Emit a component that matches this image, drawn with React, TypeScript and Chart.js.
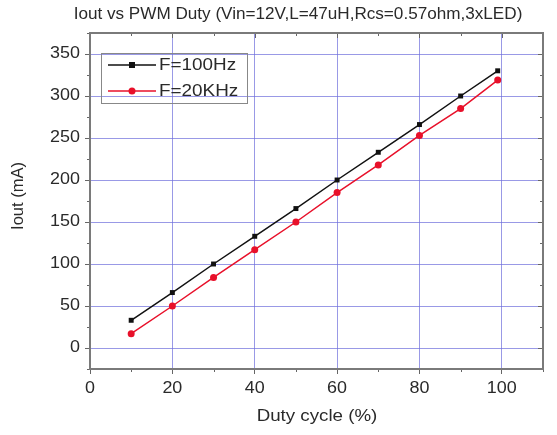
import React, { useEffect, useRef } from "react";
import { Chart, registerables } from "chart.js";

Chart.register(...registerables);

const duty = [10, 20, 30, 40, 50, 60, 70, 80, 90, 99];
const iout100Hz = [33, 66, 100, 133, 166, 200, 233, 266, 300, 330];
const iout20KHz = [17, 50, 84, 117, 150, 185, 218, 253, 285, 319];
const xTicks = [0, 20, 40, 60, 80, 100];
const yTicks = [0, 50, 100, 150, 200, 250, 300, 350];
const seriesNames = ["F=100Hz", "F=20KHz"];
const titleText = "Iout vs PWM Duty (Vin=12V,L=47uH,Rcs=0.57ohm,3xLED)";
const xTitle = "Duty cycle (%)";
const yTitle = "Iout (mA)";

const FONT = "'Liberation Sans', Arial, sans-serif";
const BLACK = "#111111";
const RED = "#e8102a";
const TEXT = "#2a2a2a";

function stretchText(ctx: any, text: string, x: number, y: number, size: number, sx: number, align: string, rot = 0) {
  ctx.save();
  ctx.translate(x, y);
  if (rot) ctx.rotate(rot);
  ctx.scale(sx, 1);
  ctx.font = `${size}px ${FONT}`;
  ctx.textAlign = align;
  ctx.textBaseline = "middle";
  ctx.fillStyle = TEXT;
  ctx.fillText(text, 0, 0);
  ctx.restore();
}

const decor = {
  id: "decor",
  afterDraw(chart: any) {
    const { ctx, chartArea } = chart;
    const { left, right, top, bottom } = chartArea;
    const xs = chart.scales.x;
    const ys = chart.scales.y;
    ctx.save();
    ctx.strokeStyle = "#666";
    ctx.lineWidth = 1;
    ctx.beginPath();
    for (let v = 10; v <= 110; v += 20) {
      const px = Math.round(xs.getPixelForValue(v)) + 0.5;
      ctx.moveTo(px, bottom);
      ctx.lineTo(px, bottom + 3);
      ctx.moveTo(px, top);
      ctx.lineTo(px, top + 3);
    }
    for (const v of xTicks) {
      const px = Math.round(xs.getPixelForValue(v)) + 0.5;
      ctx.moveTo(px, top);
      ctx.lineTo(px, top + 5);
    }
    for (let v = -25; v <= 375; v += 50) {
      const py = Math.round(ys.getPixelForValue(v)) + 0.5;
      ctx.moveTo(left, py);
      ctx.lineTo(left - 3, py);
      ctx.moveTo(right, py);
      ctx.lineTo(right - 3, py);
    }
    for (const v of yTicks) {
      const py = Math.round(ys.getPixelForValue(v)) + 0.5;
      ctx.moveTo(right, py);
      ctx.lineTo(right - 5, py);
    }
    ctx.stroke();
    ctx.strokeStyle = "#7a7a7a";
    ctx.lineWidth = 2;
    ctx.strokeRect(left, top, right - left, bottom - top);

    // tick labels
    for (const v of xTicks) {
      stretchText(ctx, String(v), xs.getPixelForValue(v), 389, 16, 1.12, "center");
    }
    for (const v of yTicks) {
      stretchText(ctx, String(v), 80, ys.getPixelForValue(v), 16, 1.12, "right");
    }

    // titles
    stretchText(ctx, titleText, 298, 15, 16, 1.07, "center");
    stretchText(ctx, xTitle, 317, 417, 16, 1.17, "center");
    stretchText(ctx, yTitle, 19, 196, 16, 1.03, "center", -Math.PI / 2);

    // legend
    ctx.strokeStyle = "#888";
    ctx.lineWidth = 1;
    ctx.strokeRect(101.5, 53.5, 146, 50);
    const rows = [
      { name: seriesNames[0], color: BLACK, y: 65, shape: "rect" },
      { name: seriesNames[1], color: RED, y: 91, shape: "circle" },
    ];
    for (const r of rows) {
      ctx.strokeStyle = r.color;
      ctx.lineWidth = 1.5;
      ctx.beginPath();
      ctx.moveTo(108, r.y);
      ctx.lineTo(156, r.y);
      ctx.stroke();
      ctx.fillStyle = r.color;
      if (r.shape === "rect") {
        ctx.fillRect(129, r.y - 3, 6, 6);
      } else {
        ctx.beginPath();
        ctx.arc(132, r.y, 3.5, 0, Math.PI * 2);
        ctx.fill();
      }
      stretchText(ctx, r.name, 159, r.y + 1, 16, 1.18, "left");
    }
    ctx.restore();
  },
};

export default function App() {
  const ref = useRef<HTMLCanvasElement>(null);
  useEffect(() => {
    const chart = new Chart(ref.current as HTMLCanvasElement, {
      type: "line",
      data: {
        datasets: [
          {
            label: seriesNames[0],
            data: duty.map((d, i) => ({ x: d, y: iout100Hz[i] })),
            borderColor: BLACK,
            backgroundColor: BLACK,
            borderWidth: 1.5,
            pointStyle: "rect",
            pointRadius: 3.5,
            pointBorderWidth: 0,
          },
          {
            label: seriesNames[1],
            data: duty.map((d, i) => ({ x: d, y: iout20KHz[i] })),
            borderColor: RED,
            backgroundColor: RED,
            borderWidth: 1.5,
            pointStyle: "circle",
            pointRadius: 3.5,
            pointBorderWidth: 0,
          },
        ],
      },
      options: {
        animation: false,
        responsive: false,
        layout: { padding: { top: 33, right: 14, left: 0, bottom: 0 } },
        plugins: { legend: { display: false }, title: { display: false }, tooltip: { enabled: false } },
        scales: {
          x: {
            type: "linear",
            min: 0,
            max: 110,
            afterFit: (s: any) => { s.height = 66; },
            afterBuildTicks: (s: any) => { s.ticks = xTicks.map((v) => ({ value: v })); },
            grid: { color: "rgba(110,110,220,0.7)", tickColor: "#666", tickLength: 5, lineWidth: 1 },
            border: { display: false },
            ticks: { display: false },
          },
          y: {
            type: "linear",
            min: -25,
            max: 375,
            afterFit: (s: any) => { s.width = 90; },
            afterBuildTicks: (s: any) => { s.ticks = yTicks.map((v) => ({ value: v })); },
            grid: { color: "rgba(110,110,220,0.7)", tickColor: "#666", tickLength: 5, lineWidth: 1 },
            border: { display: false },
            ticks: { display: false },
          },
        },
      },
      plugins: [decor],
    });
    return () => chart.destroy();
  }, []);
  return (
    <div style={{ position: "fixed", left: 0, top: 0, width: 557, height: 435, background: "#fff" }}>
      <canvas ref={ref} width={557} height={435} style={{ width: 557, height: 435 }} />
    </div>
  );
}
